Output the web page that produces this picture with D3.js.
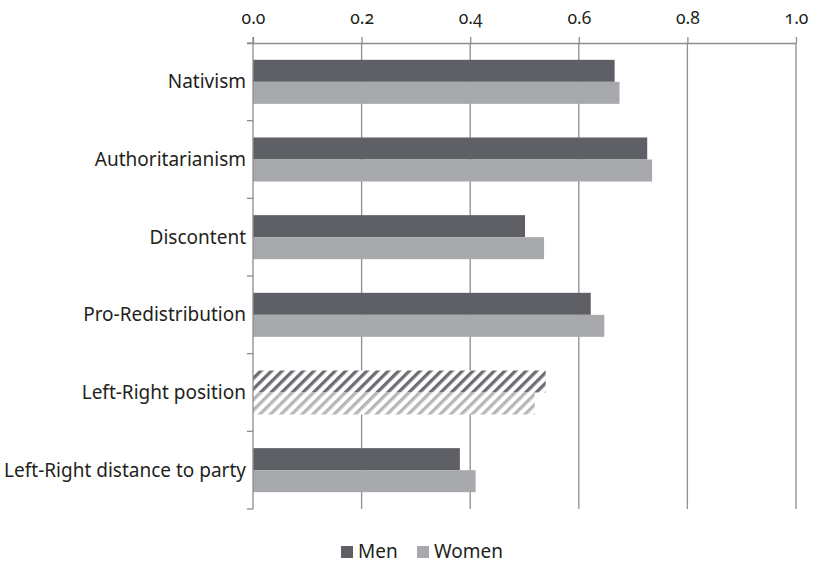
<!DOCTYPE html>
<html>
<head>
<meta charset="utf-8">
<script src="https://cdn.jsdelivr.net/npm/d3@7"></script>
<style>
  html, body { margin: 0; padding: 0; background: #fff; }
  svg { display: block; }
  text { font-family: "Noto Sans", "Open Sans", sans-serif; fill: #231f20; }
  .tick-label { font-variant-numeric: oldstyle-nums; font-feature-settings: "onum" 1; }
</style>
</head>
<body>
<svg id="chart" width="815" height="563"></svg>
<script>
// Attitude scores (0–1) by gender
const categories = [
  "Nativism",
  "Authoritarianism",
  "Discontent",
  "Pro-Redistribution",
  "Left-Right position",
  "Left-Right distance to party"
];
const menValues   = [0.666, 0.726, 0.501, 0.622, 0.539, 0.381];
const womenValues = [0.675, 0.735, 0.536, 0.647, 0.519, 0.410];
const hatchedCategories = ["Left-Right position"];
const seriesNames = ["Men", "Women"];
const xTicks = [0, 0.2, 0.4, 0.6, 0.8, 1.0];

const W = 815, H = 563;
const margin = { top: 43, right: 19, bottom: 54, left: 253 };
const colors = { Men: "#5f6065", Women: "#a7a9ad" };
const hatchColors = { Men: "#6d6e73", Women: "#b5b7ba" };
const gridColor = "#8d8d92";

const svg = d3.select("#chart");
const defs = svg.append("defs");

// Diagonal stripe patterns for the hatched bars
seriesNames.forEach(s => {
  const p = defs.append("pattern")
    .attr("id", "hatch-" + s)
    .attr("patternUnits", "userSpaceOnUse")
    .attr("width", 7.5).attr("height", 7.5)
    .attr("patternTransform", "rotate(45)");
  p.append("rect").attr("width", 7.5).attr("height", 7.5).attr("fill", "#fff");
  p.append("rect").attr("width", 3.3).attr("height", 7.5).attr("fill", hatchColors[s]);
});

const x = d3.scaleLinear().domain([0, 1]).range([margin.left, W - margin.right]);
const y = d3.scaleBand().domain(categories).range([margin.top, H - margin.bottom]).padding(0);
const ySub = d3.scaleBand().domain(seriesNames).range([0, y.bandwidth()])
  .paddingInner(0).paddingOuter(0.764);

const rows = categories.map((c, i) => ({ cat: c, Men: menValues[i], Women: womenValues[i] }));

// vertical gridlines
svg.append("g").selectAll("line")
  .data(xTicks.filter(t => t > 0))
  .join("line")
  .attr("x1", d => x(d)).attr("x2", d => x(d))
  .attr("y1", margin.top).attr("y2", H - margin.bottom)
  .attr("stroke", gridColor).attr("stroke-width", 1.3);

// bars
const groups = svg.append("g").selectAll("g")
  .data(rows)
  .join("g")
  .attr("transform", d => `translate(0,${y(d.cat)})`);

groups.selectAll("rect")
  .data(d => seriesNames.map(s => ({ s, v: d[s], hatched: hatchedCategories.includes(d.cat) })))
  .join("rect")
  .attr("x", x(0))
  .attr("y", d => ySub(d.s))
  .attr("width", d => x(d.v) - x(0))
  .attr("height", ySub.bandwidth())
  .attr("fill", d => d.hatched ? `url(#hatch-${d.s})` : colors[d.s]);

// top x axis
const xAxis = d3.axisTop(x).tickValues(xTicks).tickFormat(d3.format(".1f"))
  .tickSize(6).tickPadding(13);
const gx = svg.append("g").attr("transform", `translate(0,${margin.top})`).call(xAxis);
gx.select(".domain").attr("stroke", gridColor).attr("stroke-width", 1.3)
  .attr("d", `M${x(0) - 6},0.5H${x(1)}`);
gx.selectAll(".tick line").attr("stroke", gridColor).attr("stroke-width", 1.3);
gx.selectAll(".tick text").attr("class", "tick-label")
  .attr("font-size", 17.5).style("font-family", '"Noto Sans", sans-serif').attr("fill", "#231f20");

// left category axis with ticks at band boundaries
const gy = svg.append("g");
gy.append("line")
  .attr("x1", x(0)).attr("x2", x(0))
  .attr("y1", margin.top - 6).attr("y2", H - margin.bottom)
  .attr("stroke", gridColor).attr("stroke-width", 1.3);
const bounds = categories.map(c => y(c)).concat([y(categories[categories.length - 1]) + y.bandwidth()]);
gy.selectAll(".bt").data(bounds).join("line").attr("class", "bt")
  .attr("x1", x(0) - 6).attr("x2", x(0))
  .attr("y1", d => d).attr("y2", d => d)
  .attr("stroke", gridColor).attr("stroke-width", 1.3);
gy.selectAll("text").data(categories).join("text")
  .attr("x", x(0) - 7)
  .attr("y", d => y(d) + y.bandwidth() / 2)
  .attr("dy", "0.35em")
  .attr("text-anchor", "end")
  .attr("font-size", 19)
  .text(d => d);

// legend
const legend = svg.append("g").attr("transform", "translate(341,546)");
const items = [{ s: "Men", x: 0 }, { s: "Women", x: 76 }];
items.forEach(it => {
  legend.append("rect").attr("x", it.x).attr("y", 0).attr("width", 12).attr("height", 12)
    .attr("fill", colors[it.s]);
  legend.append("text").attr("x", it.x + 17).attr("y", 12)
    .attr("font-size", 19).text(it.s);
});
</script>
</body>
</html>
